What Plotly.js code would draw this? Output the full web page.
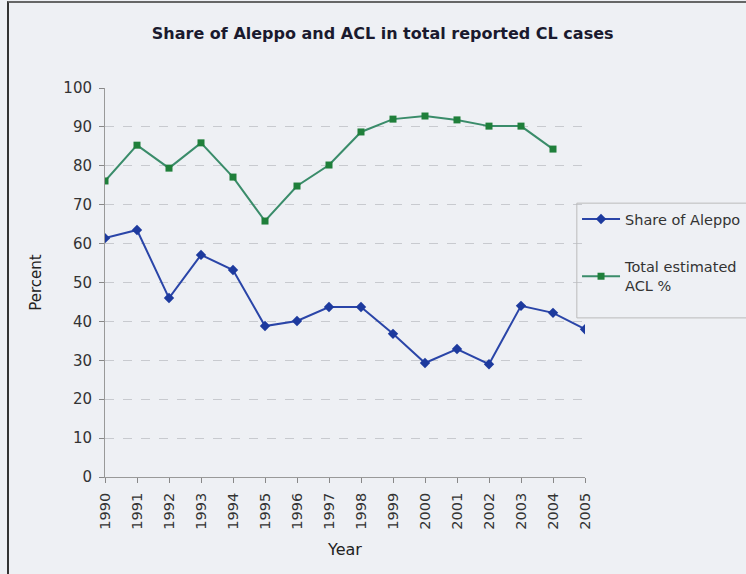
<!DOCTYPE html>
<html>
<head>
<meta charset="utf-8">
<script src="https://cdn.plot.ly/plotly-3.0.1.min.js"></script>
<style>
  html, body { margin: 0; padding: 0; background: #eef0f4; }
  #wrap { position: relative; width: 746px; height: 574px; overflow: hidden; }
  #chart { width: 746px; height: 574px; }
  #frame { position: absolute; left: 7px; top: 1px; width: 760px; height: 600px;
           border-left: 2px solid #333; border-top: 2px solid #666; pointer-events: none; }
</style>
</head>
<body>
<div id="wrap">
  <div id="chart"></div>
  <div id="frame"></div>
</div>
<script>
const years = ['1990','1991','1992','1993','1994','1995','1996','1997','1998','1999','2000','2001','2002','2003','2004','2005'];
const aleppoShare = [61.4, 63.5, 46.0, 57.1, 53.2, 38.8, 40.1, 43.7, 43.7, 36.8, 29.3, 32.9, 29.0, 44.0, 42.2, 38.0];
const aclTotal = [76.1, 85.3, 79.4, 85.9, 77.1, 65.8, 74.8, 80.2, 88.7, 92.0, 92.8, 91.8, 90.2, 90.2, 84.3, null];

const font = 'DejaVu Sans, Liberation Sans, sans-serif';

const traces = [
    {
        x: years, y: aleppoShare, name: 'Share of Aleppo', type: 'scatter', mode: 'lines+markers',
        legendgroup: 'a',
        line: { color: '#2a45a8', width: 2 },
        marker: { symbol: 'diamond', size: 8, color: '#1d3a9e' }
    },
    {
        x: years, y: aclTotal, name: 'Total estimated<br>ACL %', type: 'scatter', mode: 'lines+markers',
        legendgroup: 'b',
        line: { color: '#3a8c6a', width: 2 },
        marker: { symbol: 'square', size: 7, color: '#1f7f3a' }
    }
];

const layout = {
    width: 746, height: 574,
    margin: { l: 105, r: 161, t: 88, b: 97, autoexpand: false },
    paper_bgcolor: 'rgba(0,0,0,0)',
    plot_bgcolor: 'rgba(0,0,0,0)',
    font: { family: font, size: 15, color: '#333' },
    title: {
        text: '<b>Share of Aleppo and ACL in total reported CL cases</b>',
        font: { family: font, size: 16, color: '#1a1a2e' },
        xref: 'container', x: 0.513, xanchor: 'center',
        yref: 'container', y: 0.942, yanchor: 'middle'
    },
    xaxis: {
        type: 'category',
        range: [0, 15],
        tickangle: -90,
        ticks: 'outside', ticklen: 5, tickcolor: '#888',
        ticklabelstandoff: 4,
        showline: true, linecolor: '#999', linewidth: 1,
        showgrid: false, zeroline: false,
        tickfont: { family: font, size: 14.5, color: '#333' },
        title: { text: 'Year', font: { family: font, size: 16, color: '#222' }, standoff: 15 }
    },
    yaxis: {
        range: [0, 100],
        dtick: 10,
        ticks: 'outside', ticklen: 5, tickcolor: '#888',
        ticklabelstandoff: 4,
        showline: true, linecolor: '#999', linewidth: 1,
        showgrid: true, gridcolor: '#c8cacf', griddash: 'dash', gridwidth: 1,
        zeroline: false,
        tickfont: { family: font, size: 15, color: '#333' },
        title: { text: 'Percent', font: { family: font, size: 15, color: '#222' }, standoff: 18 }
    },
    // legend frame (taller than Plotly's own box, runs off the right edge)
    shapes: [{
        type: 'rect', xref: 'paper', yref: 'paper',
        x0: 0.983, x1: 1.5, y0: 0.409, y1: 0.704,
        line: { color: '#bbb', width: 1 }
    }],
    showlegend: true,
    legend: {
        xref: 'container', x: 0.7735, xanchor: 'left',
        yref: 'container', y: 0.6463, yanchor: 'top',
        bgcolor: 'rgba(0,0,0,0)',
        borderwidth: 0,
        traceorder: 'grouped',
        tracegroupgap: 26,
        itemwidth: 38,
        font: { family: font, size: 14.5, color: '#333' }
    }
};

Plotly.newPlot('chart', traces, layout, { displayModeBar: false, staticPlot: true });
</script>
</body>
</html>
